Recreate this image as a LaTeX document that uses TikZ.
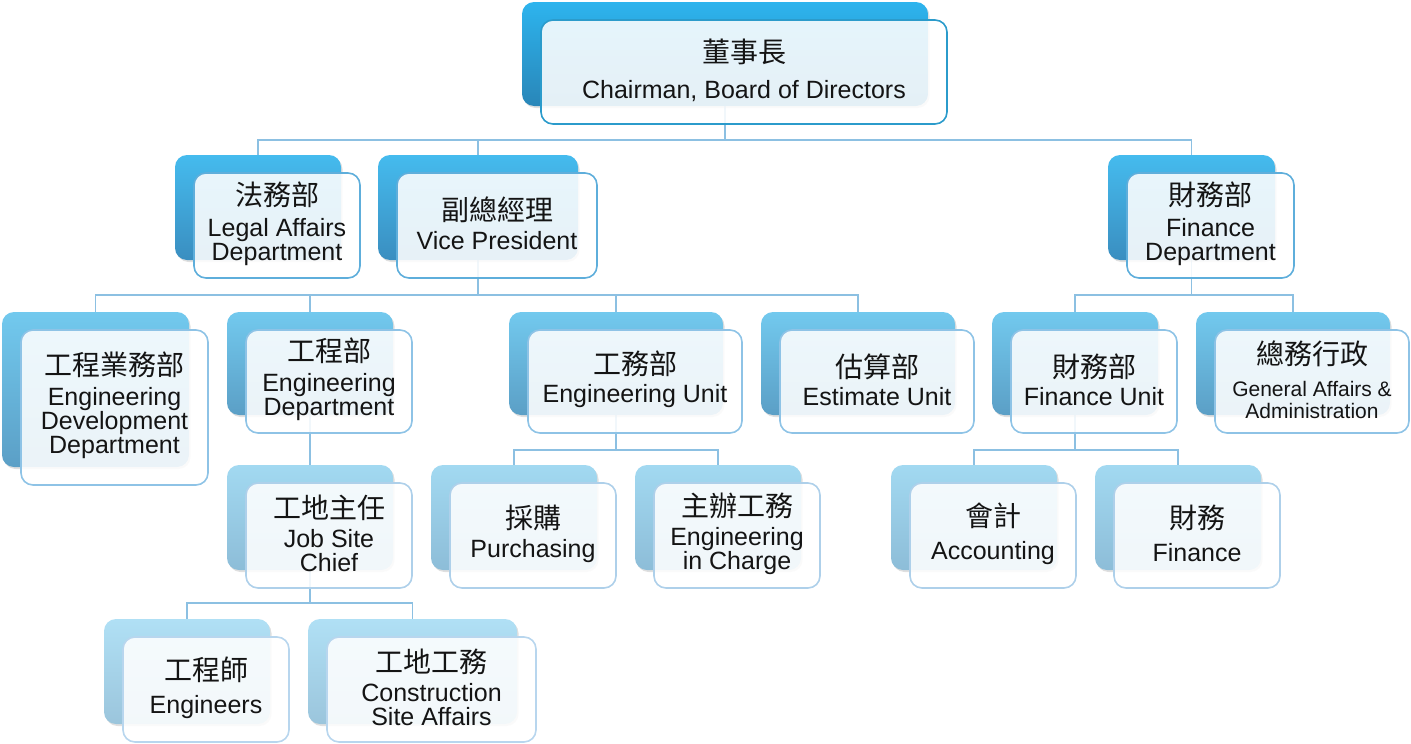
\documentclass[tikz,border=0pt]{standalone}
\usepackage{fontspec}
\setmainfont{Liberation Sans}
\newfontfamily\cjk{Noto Sans CJK TC}
\usetikzlibrary{backgrounds,shadows}
\definecolor{aTop}{HTML}{2DB4EE}\definecolor{aBot}{HTML}{2986B8}\definecolor{aBrd}{HTML}{2B9BCB}
\definecolor{bTop}{HTML}{45BBEE}\definecolor{bBot}{HTML}{3A8EC0}\definecolor{bBrd}{HTML}{5EAEDB}
\definecolor{cTop}{HTML}{72C9EE}\definecolor{cBot}{HTML}{5B9FC6}\definecolor{cBrd}{HTML}{8EC3E6}
\definecolor{dTop}{HTML}{A2D9F1}\definecolor{dBot}{HTML}{8DBDD8}\definecolor{dBrd}{HTML}{AED0EA}
\definecolor{eTop}{HTML}{B0E0F5}\definecolor{eBot}{HTML}{9BC5DC}\definecolor{eBrd}{HTML}{B8D6EE}
\definecolor{connC}{HTML}{8CC0E2}
\newcommand\cj[1]{{\cjk\fontsize{28}{28}\selectfont #1}}
\newcommand\orgunit[8]{%
  \node[backbox, top color=#6Top, bottom color=#6Bot, minimum width=#4pt, minimum height=#5pt, anchor=north west] (b#1) at (#2,#3) {};
  \node[frontbox, draw=#6Brd, minimum width=#4pt, minimum height=#5pt, anchor=north west] (f#1) at (#2+19,#3+18) {};
  \node[txt, #8] (t#1) at ([yshift=2pt]f#1.center) {#7};
}
\begin{document}
\begin{tikzpicture}[x=1pt,y=-1pt,
  backbox/.style={rectangle, rounded corners=12pt, draw=none, inner sep=0pt, outer sep=0pt,
     drop shadow={opacity=0.25, shadow xshift=1.5pt, shadow yshift=-2pt}},
  frontbox/.style={rectangle, rounded corners=12pt, fill=white, fill opacity=0.88, line width=1.6pt, inner sep=0pt, outer sep=0pt},
  txt/.style={align=center, font=\fontsize{25}{24}\selectfont, inner sep=0pt, text=black!92},
  small/.style={font=\fontsize{21}{22}\selectfont},
  conn/.style={draw=connC, line width=1.8pt}]
\useasboundingbox (0,0) rectangle (1411,744);

\orgunit{top}{522}{2}{406}{104}{a}{\cj{董事長}\\[12pt]Chairman, Board of Directors}{}
\orgunit{legal}{175}{155}{166}{105}{b}{\cj{法務部}\\[7pt]Legal Affairs\\Department}{}
\orgunit{vp}{378}{155}{200}{105}{b}{\cj{副總經理}\\[5pt]Vice President}{}
\orgunit{findept}{1108}{155}{167}{105}{b}{\cj{財務部}\\[7pt]Finance\\Department}{}

\orgunit{engdev}{2}{312}{187}{155}{c}{\cj{工程業務部}\\[6pt]Engineering\\Development\\Department}{}
\orgunit{engdept}{227}{312}{166}{103}{c}{\cj{工程部}\\[6pt]Engineering\\Department}{}
\orgunit{engunit}{509}{312}{214}{103}{c}{\cj{工務部}\\[4pt]Engineering Unit}{}
\orgunit{estimate}{761}{312}{194}{103}{c}{\cj{估算部}\\[4pt]Estimate Unit}{}
\orgunit{finunit}{992}{312}{166}{103}{c}{\cj{財務部}\\[4pt]Finance Unit}{}
\orgunit{genaff}{1196}{312}{194}{103}{c}{\cj{總務行政}\\[10pt]General Affairs \&\\Administration}{small}

\orgunit{jobsite}{227}{465}{166}{105}{d}{\cj{工地主任}\\[5pt]Job Site\\Chief}{}
\orgunit{purch}{431}{465}{166}{105}{d}{\cj{採購}\\[5pt]Purchasing}{}
\orgunit{engcharge}{635}{465}{166}{105}{d}{\cj{主辦工務}\\[5pt]Engineering\\in Charge}{}
\orgunit{acct}{891}{465}{166}{105}{d}{\cj{會計}\\[9pt]Accounting}{}
\orgunit{fin}{1095}{465}{166}{105}{d}{\cj{財務}\\[9pt]Finance}{}

\orgunit{engineers}{104}{619}{166}{105}{e}{\cj{工程師}\\[9pt]Engineers}{}
\orgunit{constr}{308}{619}{209}{105}{e}{\cj{工地工務}\\[5pt]Construction\\Site Affairs}{}

\coordinate (bus1) at (0,140);
\coordinate (bus2) at (0,295);
\coordinate (bus3) at (0,450);
\coordinate (bus4) at (0,603);

\begin{scope}[on background layer]
  \foreach \c in {legal,vp,findept}
    \draw[conn] (btop.south) |- (b\c.center |- bus1) -- (b\c.north);
  \foreach \c in {engdev,engdept,engunit,estimate}
    \draw[conn] (bvp.south) |- (b\c.center |- bus2) -- (b\c.north);
  \foreach \c in {finunit,genaff}
    \draw[conn] (bfindept.south) |- (b\c.center |- bus2) -- (b\c.north);
  \draw[conn] (bengdept.south) -- (bjobsite.north);
  \foreach \c in {purch,engcharge}
    \draw[conn] (bengunit.south) |- (b\c.center |- bus3) -- (b\c.north);
  \foreach \c in {acct,fin}
    \draw[conn] (bfinunit.south) |- (b\c.center |- bus3) -- (b\c.north);
  \foreach \c in {engineers,constr}
    \draw[conn] (bjobsite.south) |- (b\c.center |- bus4) -- (b\c.north);
\end{scope}
\end{tikzpicture}
\end{document}
